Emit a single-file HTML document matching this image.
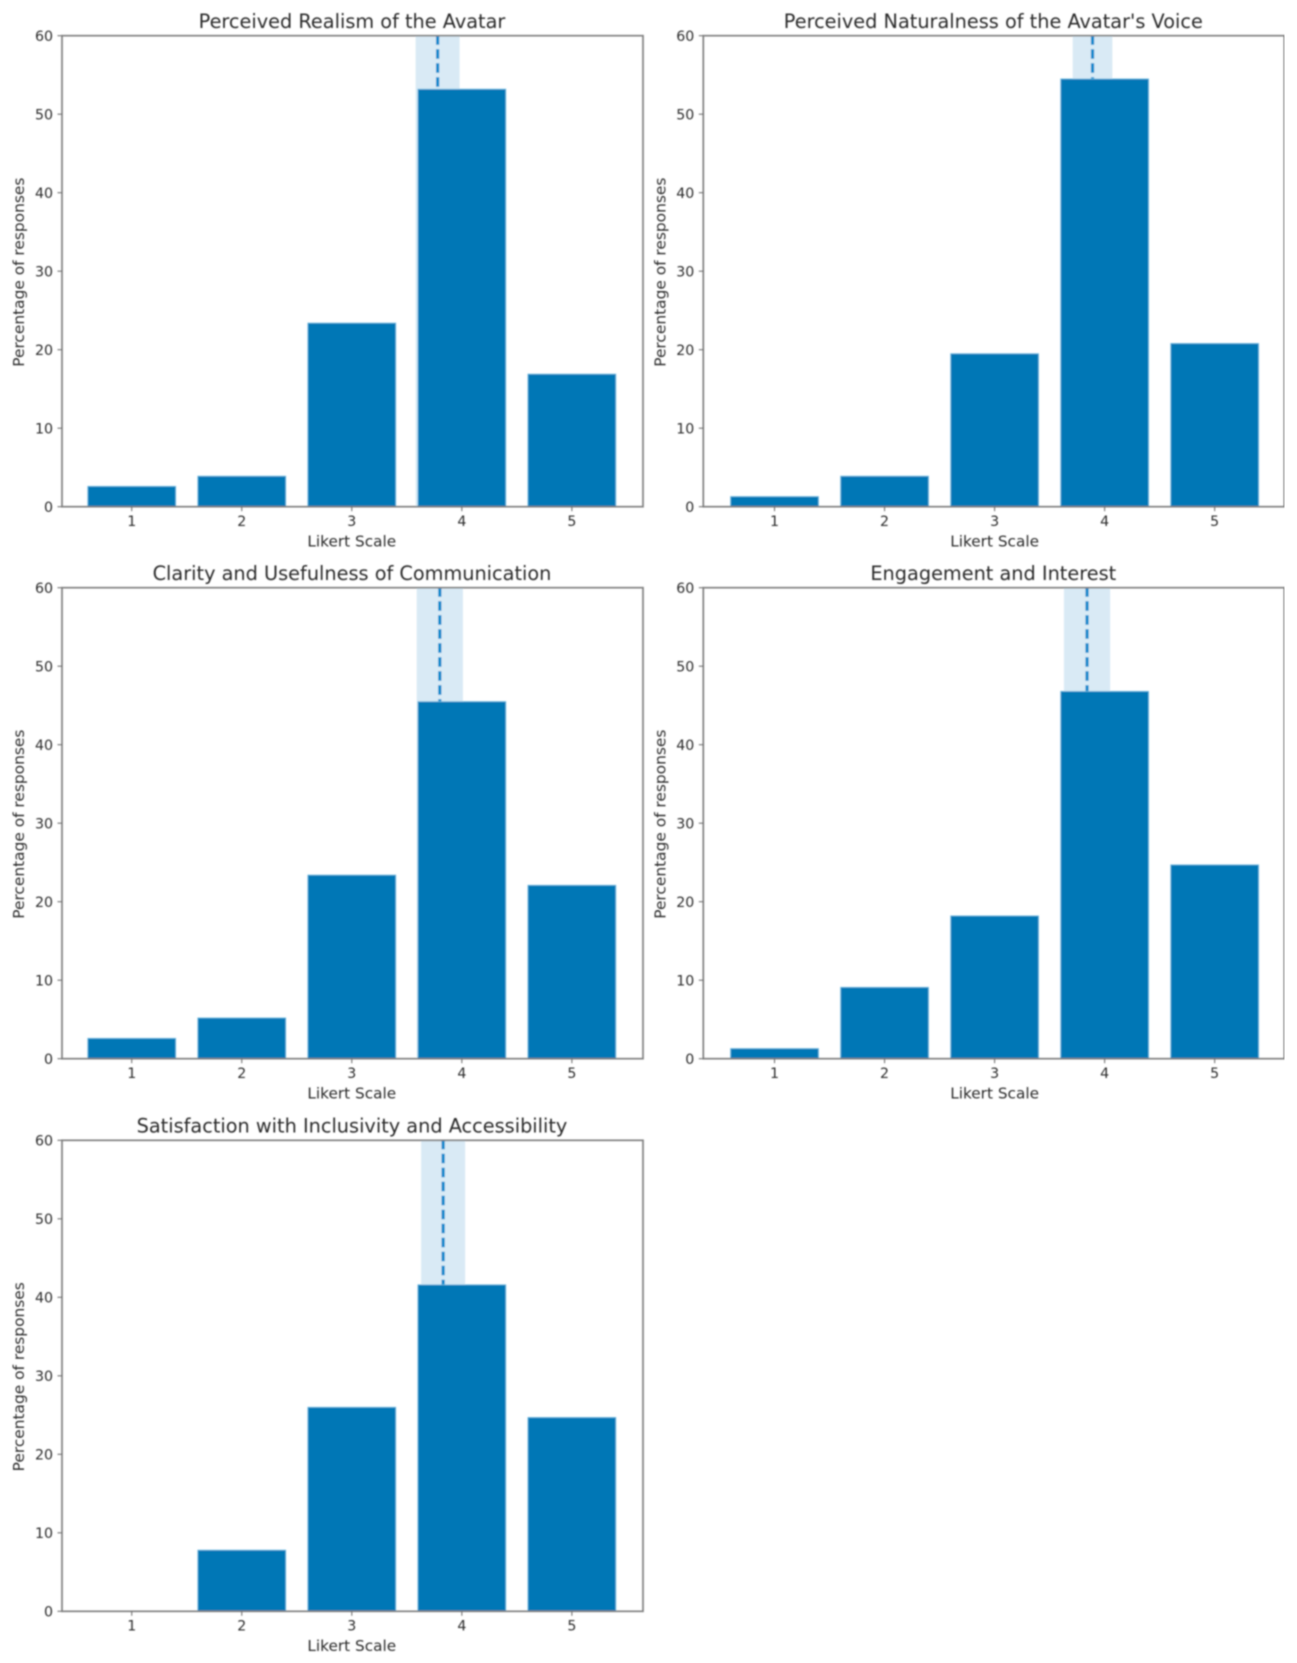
<!DOCTYPE html>
<html lang="en">
<head>
<meta charset="utf-8">
<title>Likert survey results</title>
<style>
html,body{margin:0;padding:0;background:#fff;}
svg{display:block;}
text{font-family:"DejaVu Sans","Liberation Sans",sans-serif;fill:#2a2a2a;}
</style>
</head>
<body>
<svg id="chart" xmlns="http://www.w3.org/2000/svg" width="1297" height="1663" viewBox="0 0 1297 1663">
<defs>
<filter id="soft" x="0" y="0" width="100%" height="100%" filterUnits="objectBoundingBox">
<feGaussianBlur stdDeviation="0.75"/>
</filter>
</defs>
<rect x="0" y="0" width="1297" height="1663" fill="#ffffff"/>
<g id="root" filter="url(#soft)"></g>
</svg>
<script>
const panelTitles = [
  "Perceived Realism of the Avatar",
  "Perceived Naturalness of the Avatar's Voice",
  "Clarity and Usefulness of Communication",
  "Engagement and Interest",
  "Satisfaction with Inclusivity and Accessibility"
];
const categories = [1, 2, 3, 4, 5];
const yTicks = [0, 10, 20, 30, 40, 50, 60];
const realismValues = [2.6, 3.9, 23.4, 53.2, 16.9];
const voiceValues = [1.3, 3.9, 19.5, 54.5, 20.8];
const clarityValues = [2.6, 5.2, 23.4, 45.5, 22.1];
const engagementValues = [1.3, 9.1, 18.2, 46.8, 24.7];
const inclusivityValues = [0, 7.8, 26.0, 41.6, 24.7];
const panelValues = [realismValues, voiceValues, clarityValues, engagementValues, inclusivityValues];
const panelMeans = [3.78, 3.89, 3.80, 3.84, 3.83];
const panelMeanSpread = [0.20, 0.18, 0.21, 0.21, 0.20];
const barWidth = 0.8;
const xDomain = [0.36, 5.64];
const yDomain = [0, 60];

const SVG_NS = "http://www.w3.org/2000/svg";
const root = document.getElementById("root");
const columnLefts = [62, 703.3];
const columnNudge = [-0.7, 0.8];
const rowTops = [35.7, 587.7, 1140.3];
const axesWidth = 581;
const axesHeight = 471;
const barColor = "#0077b6";

function make(parent, tag, attrs, content) {
  const node = document.createElementNS(SVG_NS, tag);
  for (const key in attrs) node.setAttribute(key, attrs[key]);
  if (content !== undefined) node.textContent = content;
  parent.appendChild(node);
  return node;
}

panelTitles.forEach(function (title, p) {
  const left = columnLefts[p % 2];
  const nudge = columnNudge[p % 2];
  const top = rowTops[Math.floor(p / 2)];
  const right = left + axesWidth;
  const bottom = top + axesHeight;
  const xScale = function (v) { return left + nudge + (v - xDomain[0]) / (xDomain[1] - xDomain[0]) * axesWidth; };
  const yScale = function (v) { return bottom - (v - yDomain[0]) / (yDomain[1] - yDomain[0]) * axesHeight; };

  const g = make(root, "g", {});
  
  

  const band = make(g, "rect", {
    x: xScale(panelMeans[p] - panelMeanSpread[p]),
    y: yScale(yDomain[1]),
    width: xScale(panelMeans[p] + panelMeanSpread[p]) - xScale(panelMeans[p] - panelMeanSpread[p]),
    height: yScale(yDomain[0]) - yScale(yDomain[1]),
    fill: "#d9eaf5"
  });
  
  

  const meanLine = make(g, "line", {
    x1: xScale(panelMeans[p]), x2: xScale(panelMeans[p]),
    y1: yScale(yDomain[0]), y2: yScale(yDomain[1]),
    stroke: "#0088cc", "stroke-width": 3.2, "stroke-dasharray": "9.5 4.5"
  });
  
  

  panelValues[p].forEach(function (value, i) {
    const cat = categories[i];
    if (value <= 0) return;
    const bar = make(g, "rect", {
      x: xScale(cat - barWidth / 2),
      y: yScale(value),
      width: xScale(cat + barWidth / 2) - xScale(cat - barWidth / 2),
      height: yScale(0) - yScale(value),
      fill: barColor, stroke: "#7cc3e6", "stroke-width": 0.8
    });
    
    
  });

  const frame = make(g, "rect", {
    x: left, y: top, width: axesWidth, height: axesHeight,
    fill: "none", stroke: "#808080", "stroke-width": 1.7
  });
  
  

  yTicks.forEach(function (tick) {
    const y = yScale(tick);
    const mark = make(g, "line", { x1: left - 4.5, x2: left, y1: y, y2: y, stroke: "#666", "stroke-width": 1 });
    
    
    const label = make(g, "text", { x: left - 9, y: y + 5.2, "text-anchor": "end", "font-size": 14.2 }, String(tick));
    
    
  });

  categories.forEach(function (cat) {
    const x = xScale(cat);
    const mark = make(g, "line", { x1: x, x2: x, y1: bottom, y2: bottom + 4.5, stroke: "#666", "stroke-width": 1 });
    
    
    const label = make(g, "text", { x: x, y: bottom + 19.3, "text-anchor": "middle", "font-size": 14.2 }, String(cat));
    
    
  });

  const xTitle = make(g, "text", { x: (left + right) / 2 + nudge, y: bottom + 39.7, "text-anchor": "middle", "font-size": 15.3 }, "Likert Scale");
  
  

  const yx = left - 38;
  const yy = (top + bottom) / 2 + 1;
  const yTitle = make(g, "text", {
    x: yx, y: yy, "text-anchor": "middle", "font-size": 15.4,
    transform: "rotate(-90 " + yx + " " + yy + ")"
  }, "Percentage of responses");
  
  

  const titleNode = make(g, "text", { x: (left + right) / 2 - 0.5, y: top - 7.8, "text-anchor": "middle", "font-size": 19.3 }, title);
  
  
});
</script>
</body>
</html>
